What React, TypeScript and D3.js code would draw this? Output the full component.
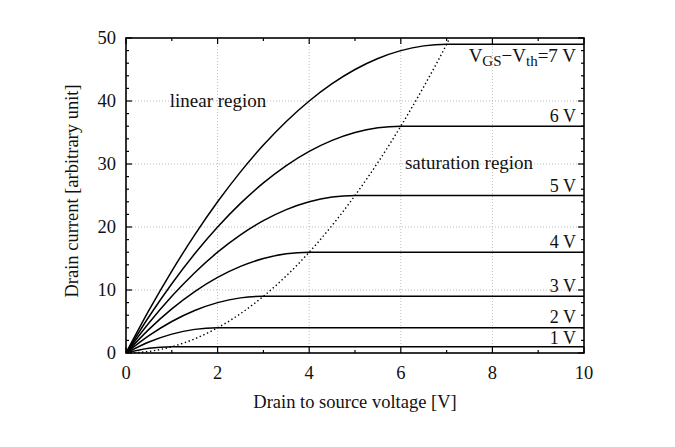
import React, { useEffect, useRef } from "react";
import * as d3 from "d3";

// drain-source voltage samples [V]
const vds = [0, 0.5, 1, 1.5, 2, 2.5, 3, 3.5, 4, 4.5, 5, 5.5, 6, 6.5, 7, 10];

// drain current at the vds samples above
const id1 = [0, 0.75, 1, 1, 1, 1, 1, 1, 1, 1, 1, 1, 1, 1, 1, 1];
const id2 = [0, 1.75, 3, 3.75, 4, 4, 4, 4, 4, 4, 4, 4, 4, 4, 4, 4];
const id3 = [0, 2.75, 5, 6.75, 8, 8.75, 9, 9, 9, 9, 9, 9, 9, 9, 9, 9];
const id4 = [0, 3.75, 7, 9.75, 12, 13.75, 15, 15.75, 16, 16, 16, 16, 16, 16, 16, 16];
const id5 = [0, 4.75, 9, 12.75, 16, 18.75, 21, 22.75, 24, 24.75, 25, 25, 25, 25, 25, 25];
const id6 = [0, 5.75, 11, 15.75, 20, 23.75, 27, 29.75, 32, 33.75, 35, 35.75, 36, 36, 36, 36];
const id7 = [0, 6.75, 13, 18.75, 24, 28.75, 33, 36.75, 40, 42.75, 45, 46.75, 48, 48.75, 49, 49];

// saturation boundary (dotted)
const boundaryVds = [0, 0.5, 1, 1.5, 2, 2.5, 3, 3.5, 4, 4.5, 5, 5.5, 6, 6.5, 7, 7.07];
const boundaryId = [0, 0.25, 1, 2.25, 4, 6.25, 9, 12.25, 16, 20.25, 25, 30.25, 36, 42.25, 49, 50];

const curves = [id1, id2, id3, id4, id5, id6, id7];
const curveLabels = ["1 V", "2 V", "3 V", "4 V", "5 V", "6 V", ""];
const labelLift = [3, 5, 4, 4, 4, 4, 0];

const xTicks = [0, 2, 4, 6, 8, 10];
const yTicks = [0, 10, 20, 30, 40, 50];

export default function App() {
  const ref = useRef<SVGSVGElement>(null);

  useEffect(() => {
    const width = 675;
    const height = 447;
    const m = { left: 126, right: 91, top: 38, bottom: 94 };
    const font = "'Liberation Serif', 'Times New Roman', serif";

    const svg = d3.select(ref.current);
    svg.selectAll("*").remove();
    svg.append("rect").attr("width", width).attr("height", height).attr("fill", "white");

    const x = d3.scaleLinear().domain([0, 10]).range([m.left, width - m.right]);
    const y = d3.scaleLinear().domain([0, 50]).range([height - m.bottom, m.top]);

    // grid
    const grid = svg.append("g").attr("stroke", "#bdbdbd").attr("stroke-width", 1).attr("stroke-dasharray", "1 2");
    [2, 4, 6, 8].forEach((v) =>
      grid.append("line").attr("x1", x(v)).attr("x2", x(v)).attr("y1", y(0)).attr("y2", y(50))
    );
    [10, 20, 30, 40].forEach((v) =>
      grid.append("line").attr("x1", x(0)).attr("x2", x(10)).attr("y1", y(v)).attr("y2", y(v))
    );

    const clip = svg.append("clipPath").attr("id", "plotclip");
    clip.append("rect").attr("x", x(0)).attr("y", y(50)).attr("width", x(10) - x(0)).attr("height", y(0) - y(50));

    const line = d3
      .line<number>()
      .x((_, i) => x(vds[i]))
      .y((d) => y(d))
      .curve(d3.curveMonotoneX);

    const g = svg.append("g").attr("clip-path", "url(#plotclip)");
    curves.forEach((c) => {
      g.append("path").attr("d", line(c)).attr("fill", "none").attr("stroke", "black").attr("stroke-width", 1.5);
    });

    const bline = d3
      .line<number>()
      .x((_, i) => x(boundaryVds[i]))
      .y((d) => y(d))
      .curve(d3.curveMonotoneX);
    g.append("path")
      .attr("d", bline(boundaryId))
      .attr("fill", "none")
      .attr("stroke", "black")
      .attr("stroke-width", 1.4)
      .attr("stroke-dasharray", "1.4 2.6");

    // frame
    svg
      .append("rect")
      .attr("x", x(0))
      .attr("y", y(50))
      .attr("width", x(10) - x(0))
      .attr("height", y(0) - y(50))
      .attr("fill", "none")
      .attr("stroke", "black")
      .attr("stroke-width", 1.6);

    // ticks on all four sides, pointing inward
    const ticks = svg.append("g").attr("stroke", "black").attr("stroke-width", 1.2);
    d3.range(0, 11, 1).forEach((v) => {
      const len = v % 2 === 0 ? 6 : 3;
      ticks.append("line").attr("x1", x(v)).attr("x2", x(v)).attr("y1", y(0)).attr("y2", y(0) - len);
      ticks.append("line").attr("x1", x(v)).attr("x2", x(v)).attr("y1", y(50)).attr("y2", y(50) + len);
    });
    d3.range(0, 51, 2).forEach((v) => {
      const len = v % 10 === 0 ? 6 : 3;
      ticks.append("line").attr("x1", x(0)).attr("x2", x(0) + len).attr("y1", y(v)).attr("y2", y(v));
      ticks.append("line").attr("x1", x(10)).attr("x2", x(10) - len).attr("y1", y(v)).attr("y2", y(v));
    });

    const text = svg.append("g").attr("font-family", font).attr("fill", "#111");

    xTicks.forEach((v) =>
      text.append("text").attr("x", x(v)).attr("y", y(0) + 26).attr("text-anchor", "middle").attr("font-size", 18.5).text(v)
    );
    yTicks.forEach((v) =>
      text.append("text").attr("x", x(0) - 10).attr("y", y(v) + 6).attr("text-anchor", "end").attr("font-size", 18.5).text(v)
    );

    text
      .append("text")
      .attr("x", 355)
      .attr("y", 408)
      .attr("text-anchor", "middle")
      .attr("font-size", 18.5)
      .text("Drain to source voltage [V]");
    text
      .append("text")
      .attr("transform", `translate(78, 191) rotate(-90)`)
      .attr("text-anchor", "middle")
      .attr("font-size", 18.5)
      .text("Drain current [arbitrary unit]");

    text.append("text").attr("x", 218).attr("y", 107).attr("text-anchor", "middle").attr("font-size", 19).text("linear region");
    text.append("text").attr("x", 469).attr("y", 169).attr("text-anchor", "middle").attr("font-size", 19).text("saturation region");

    curves.forEach((c, i) => {
      if (!curveLabels[i]) return;
      text
        .append("text")
        .attr("x", x(10) - 8)
        .attr("y", y(c[c.length - 1]) - labelLift[i])
        .attr("text-anchor", "end")
        .attr("font-size", 18)
        .text(curveLabels[i]);
    });

    const top = text
      .append("text")
      .attr("x", x(10) - 8)
      .attr("y", y(49) + 18)
      .attr("text-anchor", "end")
      .attr("font-size", 19);
    top.append("tspan").text("V");
    top.append("tspan").attr("font-size", 15).attr("dy", 4).text("GS");
    top.append("tspan").attr("dy", -4).text("\u2212V");
    top.append("tspan").attr("font-size", 15).attr("dy", 4).text("th");
    top.append("tspan").attr("dy", -4).text("=7 V");
  }, []);

  return (
    <svg
      ref={ref}
      width={675}
      height={447}
      style={{ position: "absolute", left: 0, top: 0, display: "block" }}
    />
  );
}
